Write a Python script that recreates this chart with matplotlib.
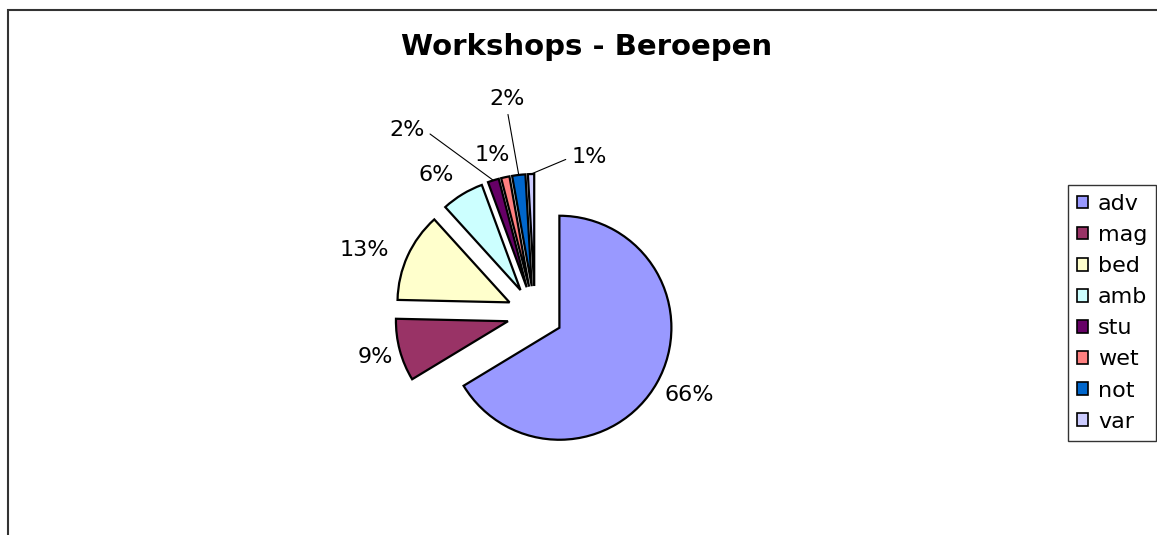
import matplotlib.pyplot as plt
from matplotlib.patches import Rectangle
import numpy as np

# occupations (beroepen), share of workshop participants in %
categories = ["adv", "mag", "bed", "amb", "stu", "wet", "not", "var"]
shares = [66.2, 9.0, 12.9, 6.1, 1.6, 1.2, 1.9, 0.9]
colors = ["#9999FF", "#993366", "#FFFFCC", "#CCFFFF",
          "#660066", "#FF8080", "#0066CC", "#CCCCFF"]

# label text placement (data units) and where a leader line leaves the text
label_xy = [(1.38, -0.72), (-1.43, -0.38), (-1.52, 0.57), (-0.88, 1.24),
            (-1.14, 1.64), (-0.38, 1.42), (-0.25, 1.92), (0.48, 1.40)]
leader_from = [None, None, None, None, (1.0, 0.5), None, (0.5, 0.0), (0.0, 0.5)]

W, H = 1157, 535
fig = plt.figure(figsize=(W / 100, H / 100), dpi=100)

# chart frame (cut off at right and bottom like the original)
fig.patches.append(Rectangle((8 / W, -0.1), 1.2, (535 - 10) / 535 + 0.1,
                             transform=fig.transFigure, fill=False,
                             edgecolor="#333333", linewidth=1.5))

# axes built so that one data unit = pie radius = 112 px, centre at (535, 314)
R = 112
cx, cy = 535, H - 314
aw, ah = 600, 440
ax = fig.add_axes([(cx - aw / 2) / W, (cy - ah / 2) / H, aw / W, ah / H])

wedges, _ = ax.pie(shares, colors=colors, startangle=90, counterclock=False,
                   explode=[0.25] * len(shares), radius=1.0,
                   wedgeprops=dict(edgecolor="black", linewidth=1.6))
ax.set_xlim(-aw / 2 / R, aw / 2 / R)
ax.set_ylim(-ah / 2 / R, ah / 2 / R)
ax.set_aspect("auto")
ax.axis("off")

total = sum(shares)
for w, s, pos, rp in zip(wedges, shares, label_xy, leader_from):
    txt = f"{s / total * 100:.0f}%"
    if rp is not None:
        ang = np.deg2rad((w.theta1 + w.theta2) / 2)
        tip = (w.center[0] + w.r * np.cos(ang), w.center[1] + w.r * np.sin(ang))
        ax.annotate(txt, xy=tip, xytext=pos, fontsize=16, ha="center",
                    va="center",
                    arrowprops=dict(arrowstyle="-", color="black",
                                    linewidth=0.8, relpos=rp,
                                    shrinkA=2, shrinkB=0))
    else:
        ax.text(pos[0], pos[1], txt, fontsize=16, ha="center", va="center")

fig.text(587 / W, (H - 47) / H, "Workshops - Beroepen", fontsize=21,
         fontweight="bold", ha="center", va="center")

leg = fig.legend(wedges, categories, loc="upper left",
                 bbox_to_anchor=(1068 / W, (H - 185) / H),
                 fontsize=16, frameon=True, fancybox=False,
                 handlelength=0.5, handleheight=0.5, handletextpad=0.45,
                 labelspacing=0.5, borderpad=0.4, borderaxespad=0)
leg.get_frame().set_edgecolor("black")
leg.get_frame().set_linewidth(1.0)
for h in leg.legend_handles:
    h.set_linewidth(1.2)

fig.savefig("out.png", dpi=100)
